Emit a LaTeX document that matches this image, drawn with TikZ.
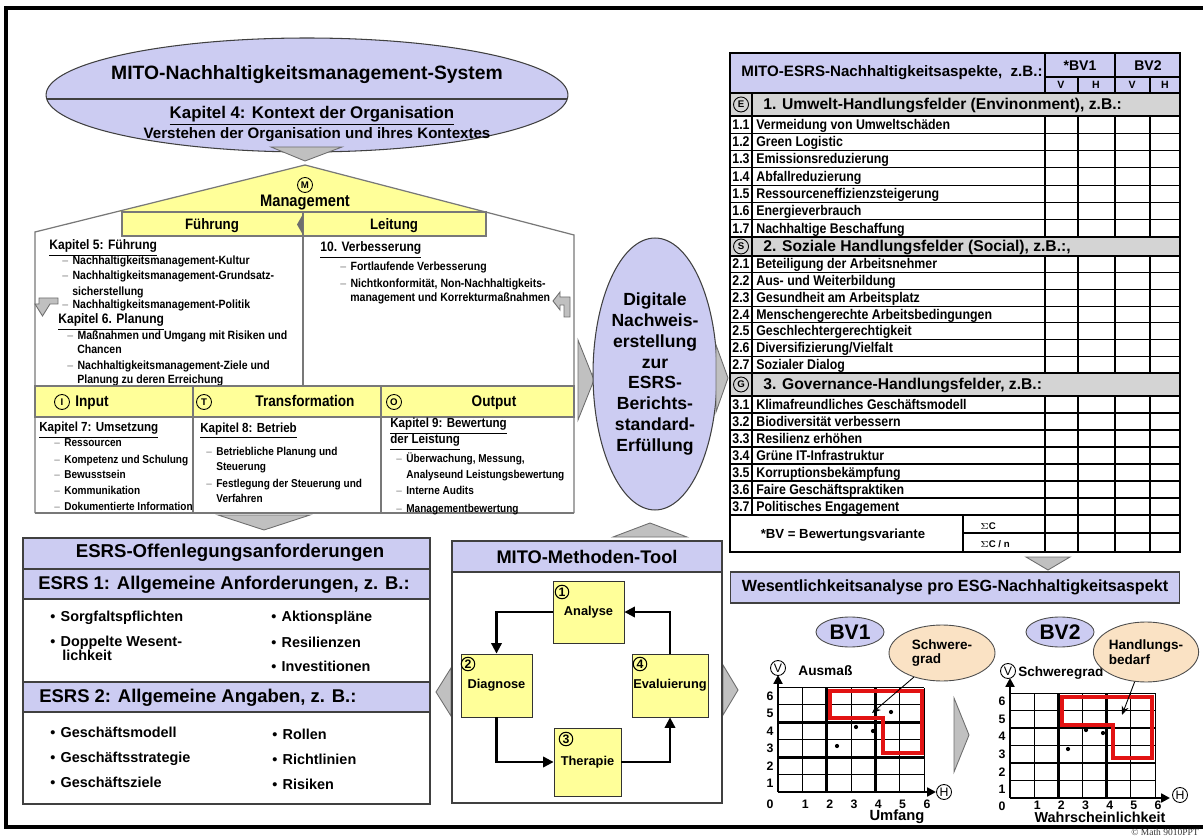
\documentclass[tikz,border=0pt]{standalone}
\usepackage{fontspec}
\setmainfont{Liberation Sans}
\newfontfamily\narrowfont{Liberation Sans}[FakeStretch=0.88]
\newfontfamily\notefont{Liberation Serif}
\usetikzlibrary{shapes.geometric,arrows.meta,positioning}

\definecolor{lav}{RGB}{204,204,242}
\definecolor{yel}{RGB}{255,255,153}
\definecolor{band}{RGB}{212,212,212}
\definecolor{peach}{RGB}{250,226,196}
\definecolor{trig}{RGB}{192,192,192}
\definecolor{trigd}{RGB}{110,110,110}
\definecolor{redline}{RGB}{226,18,18}
\definecolor{wallc}{RGB}{120,120,120}

\newcommand{\fsz}[2]{\fontsize{#1}{#2}\selectfont}
\newcommand{\hdash}{{\mdseries\textcolor{gray}{–}}\hspace{2.5pt}}
\newcommand{\bul}{\textbullet\hspace{3pt}}

\tikzset{
  tri/.style={fill=trig, draw=trigd, line width=0.5pt},
  wall/.style={draw=wallc, line width=0.7pt},
  tline/.style={draw=black, line width=0.6pt},
  boxline/.style={draw=black!75, line width=0.6pt},
  lettr/.style={circle, draw, line width=0.5pt, inner sep=0pt, minimum size=0.3cm, font=\bfseries\fsz{5.5}{6}},
  hhead/.style={anchor=mid west, inner sep=0pt, font=\narrowfont\bfseries\fsz{7.8}{9}},
  hitem/.style={anchor=mid west, inner sep=0pt, font=\narrowfont\bfseries\fsz{6.8}{8}},
  ohead/.style={anchor=mid west, inner sep=0pt, font=\narrowfont\bfseries\fsz{7.5}{9}},
  oitem/.style={anchor=mid west, inner sep=0pt, font=\narrowfont\bfseries\fsz{6.5}{8}},
  bartxt/.style={anchor=mid, inner sep=0pt, font=\narrowfont\bfseries\fsz{8.8}{10}},
  esrs/.style={anchor=mid west, inner sep=0pt, font=\bfseries\fsz{10.5}{12}},
  bultxt/.style={anchor=mid west, inner sep=0pt, font=\bfseries\fsz{8.2}{9}},
  stepbox/.style={draw=black!80, fill=yel, line width=0.5pt, inner sep=0pt, font=\bfseries\fsz{7.3}{8}},
  num/.style={circle, draw, line width=0.6pt, fill=yel, inner sep=0pt, minimum size=0.27cm, font=\bfseries\fsz{7}{7}},
  cyc/.style={line width=1.2pt, -{Triangle[length=6pt,width=6pt]}},
  rowtxt/.style={anchor=mid west, inner sep=0pt, font=\narrowfont\bfseries\fsz{8}{9}},
  bandtxt/.style={anchor=mid west, inner sep=0pt, font=\bfseries\fsz{8.9}{10}},
  gridl/.style={line width=0.5pt},
  gridt/.style={line width=1.6pt},
  axisl/.style={line width=1.6pt, -{Triangle[length=5pt,width=5pt]}},
  ax/.style={inner sep=0pt, font=\bfseries\fsz{7}{7}},
  spot/.style={circle, fill, inner sep=0pt, minimum size=2.4pt},
  bv/.style={ellipse, draw=black!70, fill=lav, line width=0.5pt, minimum width=1.36cm, minimum height=0.6cm, inner sep=0pt, font=\bfseries\fsz{12}{12}},
  callout/.style={ellipse, draw=black!70, fill=peach, line width=0.5pt, align=left, inner sep=0pt, font=\bfseries\fsz{7.7}{8.5}},
  pointer/.style={line width=0.5pt, -{Stealth[length=5pt,width=4pt]}},
}

\begin{document}
\begin{tikzpicture}[x=0.02cm, y=-0.02cm]
  \useasboundingbox (0,0) rectangle (1203,837);
  % Rahmen
  \draw[line width=1.8pt] (1206,8) -- (6,8) -- (6,827) -- (1206,827);

  % MITO-Nachhaltigkeitsmanagement-System
  \node[ellipse, boxline, fill=lav, minimum width=10.44cm, minimum height=2.28cm, inner sep=0pt] (mgmtsys) at (307,95) {};
  \draw[boxline] (47,99) -- (567,99);
  \node[font=\bfseries\fsz{11}{12}] (systitle) at (307,75) {MITO-Nachhaltigkeitsmanagement-System};
  \node[font=\bfseries\fsz{9.6}{11}] (kap4) at (312,116) {\underline{Kapitel 4: Kontext der Organisation}};
  \node[font=\bfseries\fsz{8.6}{10}] (kontext) at (317,135) {Verstehen der Organisation und ihres Kontextes};
  \draw[tri] (271,147) -- (342,147) -- (305,161) -- cycle;

  % Haus
  \fill[yel] (305,165) -- (486,212) -- (116,212) -- cycle;
  \draw[wall] (35,513) -- (35,232) -- (305,165) -- (574,235) -- (574,513);
  \draw[wall, fill=yel] (122,212) rectangle (303,236);
  \draw[wall, fill=yel] (303,212) rectangle (486,236);
  \fill[trigd] (303,214) -- (303,235) -- (297,224.5) -- cycle;
  \draw[wall] (303,236) -- (303,386);
  \node[lettr] (mcirc) at (305,185) {M};
  \node[font=\narrowfont\bfseries\fsz{9.5}{10}] (mgmt) at (305,203) {Management};
  \node[bartxt, font=\narrowfont\bfseries\fsz{8.6}{10}] (fuehrung) at (212,225) {Führung};
  \node[bartxt, font=\narrowfont\bfseries\fsz{8.6}{10}] (leitung) at (394,225) {Leitung};

  \node[hhead] (kap5) at (49,245) {\underline{Kapitel 5: Führung}};
  \node[hitem] (k5a) at (62,260) {\hdash Nachhaltigkeitsmanagement-Kultur};
  \node[hitem] (k5b) at (62,275) {\hdash Nachhaltigkeitsmanagement-Grundsatz-};
  \node[hitem] (k5c) at (72,291) {sicherstellung};
  \node[hitem] (k5d) at (62,304) {\hdash Nachhaltigkeitsmanagement-Politik};
  \node[hhead] (kap6) at (58,319) {\underline{Kapitel 6. Planung}};
  \node[hitem] (k6a) at (67,335) {\hdash Maßnahmen und Umgang mit Risiken und};
  \node[hitem] (k6b) at (77,349) {Chancen};
  \node[hitem] (k6c) at (67,365) {\hdash Nachhaltigkeitsmanagement-Ziele und};
  \node[hitem] (k6d) at (77,379) {Planung zu deren Erreichung};

  \node[hhead] (kap10) at (320,247) {\underline{10. Verbesserung}};
  \node[hitem] (k10a) at (340,266) {\hdash Fortlaufende Verbesserung};
  \node[hitem] (k10b) at (340,283) {\hdash Nichtkonformität, Non-Nachhaltigkeits-};
  \node[hitem] (k10c) at (350,297) {management und Korrekturmaßnahmen};

  \draw[tri] (58,298) -- (39,298) -- (39,304) -- (35,304) -- (42.5,316) -- (50,304) -- (58,304) -- cycle;
  \draw[tri] (570,317) -- (570,297) -- (560,297) -- (560,292) -- (553,301) -- (560,310) -- (560,305) -- (564,305) -- (564,317) -- cycle;

  % Input / Transformation / Output
  \draw[wall, fill=yel] (35,386) rectangle (574,417);
  \draw[wall] (193,386) -- (193,513);
  \draw[wall] (381,386) -- (381,513);
  \draw[wall] (35,513) -- (574,513);
  \node[lettr] (icirc) at (62,402) {I};
  \node[lettr] (tcirc) at (204,402) {T};
  \node[lettr] (ocirc) at (394,402) {O};
  \node[bartxt] (input) at (92,402) {Input};
  \node[bartxt] (transf) at (305,402) {Transformation};
  \node[bartxt] (output) at (494,402) {Output};

  \node[ohead] (kap7) at (39,427) {\underline{Kapitel 7: Umsetzung}};
  \foreach \lbl/\yy [count=\i] in {Ressourcen/442, Kompetenz und Schulung/459, Bewusstsein/474, Kommunikation/490, Dokumentierte Information/506}
    \node[oitem] (k7\i) at (54,\yy) {\hdash \lbl};
  \node[ohead] (kap8) at (200,428) {\underline{Kapitel 8: Betrieb}};
  \node[oitem] (k8a) at (206,451) {\hdash Betriebliche Planung und};
  \node[oitem] (k8b) at (216,466) {Steuerung};
  \node[oitem] (k8c) at (206,483) {\hdash Festlegung der Steuerung und};
  \node[oitem] (k8d) at (216,498) {Verfahren};
  \node[ohead] (kap9) at (390,423) {\underline{Kapitel 9: Bewertung}};
  \node[ohead] (kap9b) at (390,439) {\underline{der Leistung}};
  \node[oitem] (k9a) at (396,458) {\hdash Überwachung, Messung,};
  \node[oitem] (k9b) at (406,474) {Analyseund Leistungsbewertung};
  \node[oitem] (k9c) at (396,490) {\hdash Interne Audits};
  \node[oitem] (k9d) at (396,508) {\hdash Managementbewertung};

  % Digitale Nachweiserstellung
  \draw[tri] (578,340) -- (594,380) -- (578,420) -- cycle;
  \node[ellipse, boxline, fill=lav, minimum width=2.48cm, minimum height=5.44cm, inner sep=0pt, align=center, font=\bfseries\fsz{10}{11.9}] (digital) at (655,374)
    {Digitale\\Nachweis-\\erstellung\\zur\\ESRS-\\Berichts-\\standard-\\Erfüllung};
  \draw[tri] (716,345) -- (728,378) -- (716,412) -- cycle;

  % Pfeile unten
  \draw[tri] (218,515) -- (310,515) -- (264,530) -- cycle;
  \draw[tri] (613,537) -- (687,537) -- (650,523) -- cycle;
  \draw[tri] (451,668) -- (436,692) -- (451,716) -- cycle;
  \draw[tri] (723,665) -- (738,690) -- (723,715) -- cycle;
  \draw[tri] (1026,557) -- (1070,557) -- (1048,570) -- cycle;
  \draw[tri] (954,698) -- (969,735) -- (954,772) -- cycle;

  % ESRS-Offenlegungsanforderungen
  \draw[boxline, fill=white] (23,538) rectangle (430,804);
  \draw[boxline, fill=lav] (23,538) rectangle (430,569);
  \draw[boxline, fill=lav] (23,569) rectangle (430,599);
  \draw[boxline, fill=lav] (23,682) rectangle (430,712);
  \node[font=\bfseries\fsz{10.6}{12}] (offleg) at (230,553) {ESRS-Offenlegungsanforderungen};
  \node[esrs] (esrs1) at (38,585) {ESRS 1: Allgemeine Anforderungen, z. B.:};
  \node[esrs] (esrs2) at (39,698) {ESRS 2: Allgemeine Angaben, z. B.:};
  \node[bultxt] (sorg) at (50,617) {\bul Sorgfaltspflichten};
  \node[bultxt] (dopp) at (50,642) {\bul Doppelte Wesent-};
  \node[bultxt] (dopp2) at (62,656) {lichkeit};
  \node[bultxt] (aktion) at (271,617) {\bul Aktionspläne};
  \node[bultxt] (resil) at (271,643) {\bul Resilienzen};
  \node[bultxt] (invest) at (271,667) {\bul Investitionen};
  \node[bultxt] (gmod) at (50,733) {\bul Geschäftsmodell};
  \node[bultxt] (gstr) at (50,758) {\bul Geschäftsstrategie};
  \node[bultxt] (gziel) at (50,783) {\bul Geschäftsziele};
  \node[bultxt] (rollen) at (272,735) {\bul Rollen};
  \node[bultxt] (richt) at (272,760) {\bul Richtlinien};
  \node[bultxt] (risik) at (272,785) {\bul Risiken};

  % MITO-Methoden-Tool
  \draw[boxline, fill=white] (452,541) rectangle (722,803);
  \draw[boxline, fill=lav] (452,541) rectangle (722,572);
  \node[font=\bfseries\fsz{10.4}{12}] (tooltitle) at (587,557) {MITO-Methoden-Tool};
  \node[stepbox, minimum width=1.42cm, minimum height=1.24cm] (ana) at (588.5,612) {Analyse};
  \node[stepbox, minimum width=1.42cm, minimum height=1.26cm] (dia) at (496.5,685.5) {Diagnose};
  \node[stepbox, minimum width=1.34cm, minimum height=1.36cm] (the) at (587.5,762) {Therapie};
  \node[stepbox, minimum width=1.52cm, minimum height=1.26cm] (eva) at (670,685.5) {Evaluierung};
  \node[num] (n1) at (562,592) {1};
  \node[num] (n2) at (468,664) {2};
  \node[num] (n3) at (566,739) {3};
  \node[num] (n4) at (640,664) {4};
  \draw[cyc] (ana.west) -| (dia.north);
  \draw[cyc] (dia.south) |- (the.west);
  \draw[cyc] (the.east) -| (eva.south);
  \draw[cyc] (eva.north) |- (ana.east);

  % Tabelle MITO-ESRS-Nachhaltigkeitsaspekte
  \fill[lav] (730,53) rectangle (1180,93);
  \fill[band] (730,93) rectangle (1180,116);
  \fill[band] (730,237) rectangle (1180,256);
  \fill[band] (730,373) rectangle (1180,396);
  \draw[tline] (730,53) rectangle (1180,552);
  \foreach \yy in {93,116,237,256,373,396,515}
    \draw[tline] (730,\yy) -- (1180,\yy);
  \foreach \i in {1,...,6} {
    \draw[tline] (730,{116+\i*17.29}) -- (1180,{116+\i*17.29});
    \draw[tline] (730,{256+\i*16.71}) -- (1180,{256+\i*16.71});
    \draw[tline] (730,{396+\i*17}) -- (1180,{396+\i*17});
  }
  \draw[tline] (1045,53) -- (1045,93);
  \draw[tline] (1115,53) -- (1115,93);
  \draw[tline] (1045,77) -- (1180,77);
  \draw[tline] (1078,77) -- (1078,93);
  \draw[tline] (1150,77) -- (1150,93);
  \draw[tline] (752,93) -- (752,515);
  \foreach \xx in {1045,1078,1115,1150} {
    \draw[tline] (\xx,116) -- (\xx,237);
    \draw[tline] (\xx,256) -- (\xx,373);
    \draw[tline] (\xx,396) -- (\xx,552);
  }
  \draw[tline] (963,515) -- (963,552);
  \draw[tline] (963,533) -- (1180,533);

  \node[font=\bfseries\fsz{8.6}{10}] (tabhead) at (892,73) {MITO-ESRS-Nachhaltigkeitsaspekte,\ \ z.B.:};
  \node[font=\bfseries\fsz{8}{9}] (bvone) at (1080,66) {*BV1};
  \node[font=\bfseries\fsz{8}{9}] (bvtwo) at (1148,66) {BV2};
  \foreach \xx/\lbl [count=\i] in {1061/V, 1096/H, 1132/V, 1165/H}
    \node[font=\bfseries\fsz{6}{7}] (vh\i) at (\xx,85) {\lbl};

  \node[lettr] (ecirc) at (741,104.5) {E};
  \node[lettr] (scirc) at (741,246.5) {S};
  \node[lettr] (gcirc) at (741,384.5) {G};
  \node[bandtxt] (umwelt) at (763,105) {1. Umwelt-Handlungsfelder (Envinonment), z.B.:};
  \node[bandtxt] (sozial) at (763,247) {2. Soziale Handlungsfelder (Social), z.B.:,};
  \node[bandtxt] (govern) at (763,385) {3. Governance-Handlungsfelder, z.B.:};

  \foreach \nr/\lbl [count=\i] in {1.1/Vermeidung von Umweltschäden, 1.2/Green Logistic, 1.3/Emissionsreduzierung, 1.4/Abfallreduzierung, 1.5/Ressourceneffizienzsteigerung, 1.6/Energieverbrauch, 1.7/Nachhaltige Beschaffung} {
    \node[rowtxt, anchor=mid] (en\i) at (741,{116+(\i-0.5)*17.29}) {\nr};
    \node[rowtxt] (e\i) at (756,{116+(\i-0.5)*17.29}) {\lbl};
  }
  \foreach \nr/\lbl [count=\i] in {2.1/Beteiligung der Arbeitsnehmer, 2.2/Aus- und Weiterbildung, 2.3/Gesundheit am Arbeitsplatz, 2.4/Menschengerechte Arbeitsbedingungen, 2.5/Geschlechtergerechtigkeit, 2.6/{Diversifizierung/Vielfalt}, 2.7/Sozialer Dialog} {
    \node[rowtxt, anchor=mid] (sn\i) at (741,{256+(\i-0.5)*16.71}) {\nr};
    \node[rowtxt] (s\i) at (756,{256+(\i-0.5)*16.71}) {\lbl};
  }
  \foreach \nr/\lbl [count=\i] in {3.1/Klimafreundliches Geschäftsmodell, 3.2/Biodiversität verbessern, 3.3/Resilienz erhöhen, 3.4/Grüne IT-Infrastruktur, 3.5/Korruptionsbekämpfung, 3.6/Faire Geschäftspraktiken, 3.7/Politisches Engagement} {
    \node[rowtxt, anchor=mid] (gn\i) at (741,{396+(\i-0.5)*17}) {\nr};
    \node[rowtxt] (g\i) at (756,{396+(\i-0.5)*17}) {\lbl};
  }
  \node[font=\bfseries\fsz{7.5}{9}] (bvnote) at (843,535) {*BV = Bewertungsvariante};
  \node[anchor=mid west, inner sep=0pt, font=\bfseries\fsz{5.5}{6}] (sumc) at (980,525) {$\Sigma$C};
  \node[anchor=mid west, inner sep=0pt, font=\bfseries\fsz{5.5}{6}] (sumcn) at (980,543) {$\Sigma$C / n};

  % Wesentlichkeitsanalyse
  \node[boxline, fill=lav, minimum width=9cm, minimum height=0.62cm, inner sep=0pt, font=\bfseries\fsz{9.2}{10}] (wesentl) at (955,587.5) {Wesentlichkeitsanalyse pro ESG-Nachhaltigkeitsaspekt};

  % Matrix BV1
  \begin{scope}[shift={(778,792)}]
    \foreach \k in {0,...,6} {
      \draw[gridl] ({\k*24.33},0) -- ({\k*24.33},-104.5);
      \draw[gridl] (0,{-\k*17.42}) -- (146,{-\k*17.42});
    }
    \foreach \k in {2,4} {
      \draw[gridt] ({\k*24.33},0) -- ({\k*24.33},-104.5);
      \draw[gridt] (0,{-\k*17.42}) -- (146,{-\k*17.42});
    }
    \draw[redline, line width=2.4pt] (52,-101) -- (144,-101) -- (144,-39) -- (105,-39) -- (105,-74) -- (52,-74) -- cycle;
    \foreach \px/\py in {59/-46, 78/-65, 95/-61, 113/-80}
      \node[spot] at (\px,\py) {};
    \draw[axisl] (0,0) -- (0,-117);
    \draw[axisl] (0,0) -- (158,0);
    \node[lettr, fill=white, font=\fsz{7}{7}] (va) at (0,-124) {V};
    \node[lettr, fill=white, font=\fsz{7}{7}] (ha) at (166,0) {H};
    \node[ax] (za) at (-8,12) {0};
    \foreach \k in {1,...,6} {
      \node[ax] (ya\k) at (-8,{-(\k-0.5)*17.42}) {\k};
      \node[ax] (xa\k) at ({\k*24.33+3},12) {\k};
    }
    \node[anchor=mid west, inner sep=0pt, font=\bfseries\fsz{7.8}{9}] (ausmass) at (20,-121) {Ausmaß};
    \node[font=\bfseries\fsz{8.4}{9}] (umfang) at (119,25) {Umfang};
  \end{scope}

  % Matrix BV2
  \begin{scope}[shift={(1010,798)}]
    \foreach \k in {0,...,6} {
      \draw[gridl] ({\k*24.17},0) -- ({\k*24.17},-105);
      \draw[gridl] (0,{-\k*17.5}) -- (145,{-\k*17.5});
    }
    \foreach \k in {2,4} {
      \draw[gridt] ({\k*24.17},0) -- ({\k*24.17},-105);
      \draw[gridt] (0,{-\k*17.5}) -- (145,{-\k*17.5});
    }
    \draw[redline, line width=2.4pt] (52,-101) -- (142,-101) -- (142,-40) -- (103,-40) -- (103,-73) -- (52,-73) -- cycle;
    \foreach \px/\py in {58/-49, 76/-68, 93/-65}
      \node[spot] at (\px,\py) {};
    \draw[axisl] (0,0) -- (0,-120);
    \draw[axisl] (0,0) -- (160,0);
    \node[lettr, fill=white, font=\fsz{7}{7}] (vb) at (-2,-127) {V};
    \node[lettr, fill=white, font=\fsz{7}{7}] (hb) at (170,-3) {H};
    \node[ax] (zb) at (-8,8) {0};
    \foreach \k in {1,...,6} {
      \node[ax] (yb\k) at (-8,{-(\k-0.5)*17.5}) {\k};
      \node[ax] (xb\k) at ({\k*24.17+3},7) {\k};
    }
    \node[anchor=mid west, inner sep=0pt, font=\bfseries\fsz{7.7}{9}] (schwtxt) at (8,-126) {Schweregrad};
    \node[font=\bfseries\fsz{8.2}{9}] (wahrsch) at (90,19.5) {Wahrscheinlichkeit};
  \end{scope}

  % Bewertungsvarianten
  \node[bv] (bv1) at (850,632) {BV1};
  \node[bv] (bv2) at (1060,632) {BV2};
  \node[callout, minimum width=2.12cm, minimum height=1.12cm] (schwere) at (942,653) {Schwere-\\grad};
  \node[callout, minimum width=1.96cm, minimum height=1.2cm] (bedarf) at (1146,652) {Handlungs-\\bedarf};
  \coordinate (sgtip) at (872,713);
  \coordinate (hbtip) at (1122,715);
  \draw[pointer] (schwere) -- (sgtip);
  \draw[pointer] (bedarf) -- (hbtip);

  \node[anchor=mid east, inner sep=0pt, text=black!80, font=\notefont\fsz{5.4}{6}] (copy) at (1199,831) {© Math 9010PPT};
\end{tikzpicture}
\end{document}
